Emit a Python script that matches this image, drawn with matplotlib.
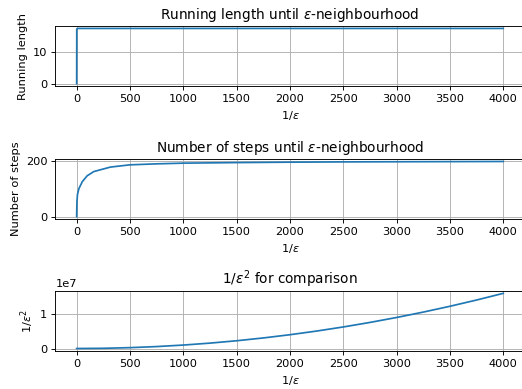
import numpy as np
import matplotlib
matplotlib.use("Agg")
import matplotlib.pyplot as plt

# 1/eps values and the quantities
inv_eps = [0, 1, 3, 8, 21, 53, 99, 161, 317, 500, 750, 1000,
           1500, 2000, 2500, 3000, 3500, 4000]
running_length = [0, 17.0, 17.2, 17.3, 17.3, 17.3, 17.3, 17.3, 17.3, 17.3,
                  17.3, 17.3, 17.3, 17.3, 17.3, 17.3, 17.3, 17.3]
n_steps = [0, 25, 55, 80, 100, 125, 146, 161, 177, 185, 188.5, 191,
           193, 194.5, 195.5, 196, 196.5, 197]

inv_eps_c = [0, 250, 500, 750, 1000, 1250, 1500, 1750, 2000, 2250, 2500,
             2750, 3000, 3250, 3500, 3750, 4000]
inv_eps_sq = [0, 0.0625e6, 0.25e6, 0.5625e6, 1.0e6, 1.5625e6, 2.25e6,
              3.0625e6, 4.0e6, 5.0625e6, 6.25e6, 7.5625e6, 9.0e6,
              10.5625e6, 12.25e6, 14.0625e6, 16.0e6]

dpi = 82
fig = plt.figure(figsize=(522 / dpi, 389 / dpi), dpi=dpi)
left, width, height = 0.106, 0.899, 0.156
ax1 = fig.add_axes([left, 0.778, width, height])
ax2 = fig.add_axes([left, 0.436, width, height])
ax3 = fig.add_axes([left, 0.097, width, height])

ax1.plot(inv_eps, running_length)
ax1.set_title(r'Running length until $\epsilon$-neighbourhood')
ax1.set_xlabel(r'1/$\epsilon$')
ax1.set_ylabel('Running length')
ax1.grid(True)

ax2.plot(inv_eps, n_steps)
ax2.set_title(r'Number of steps until $\epsilon$-neighbourhood')
ax2.set_xlabel(r'1/$\epsilon$')
ax2.set_ylabel('Number of steps')
ax2.grid(True)

ax3.plot(inv_eps_c, inv_eps_sq)
ax3.set_title(r'1/$\epsilon^2$ for comparison')
ax3.set_xlabel(r'1/$\epsilon$')
ax3.set_ylabel(r'1/$\epsilon^2$')
ax3.grid(True)

plt.savefig("out.png", dpi=dpi)
